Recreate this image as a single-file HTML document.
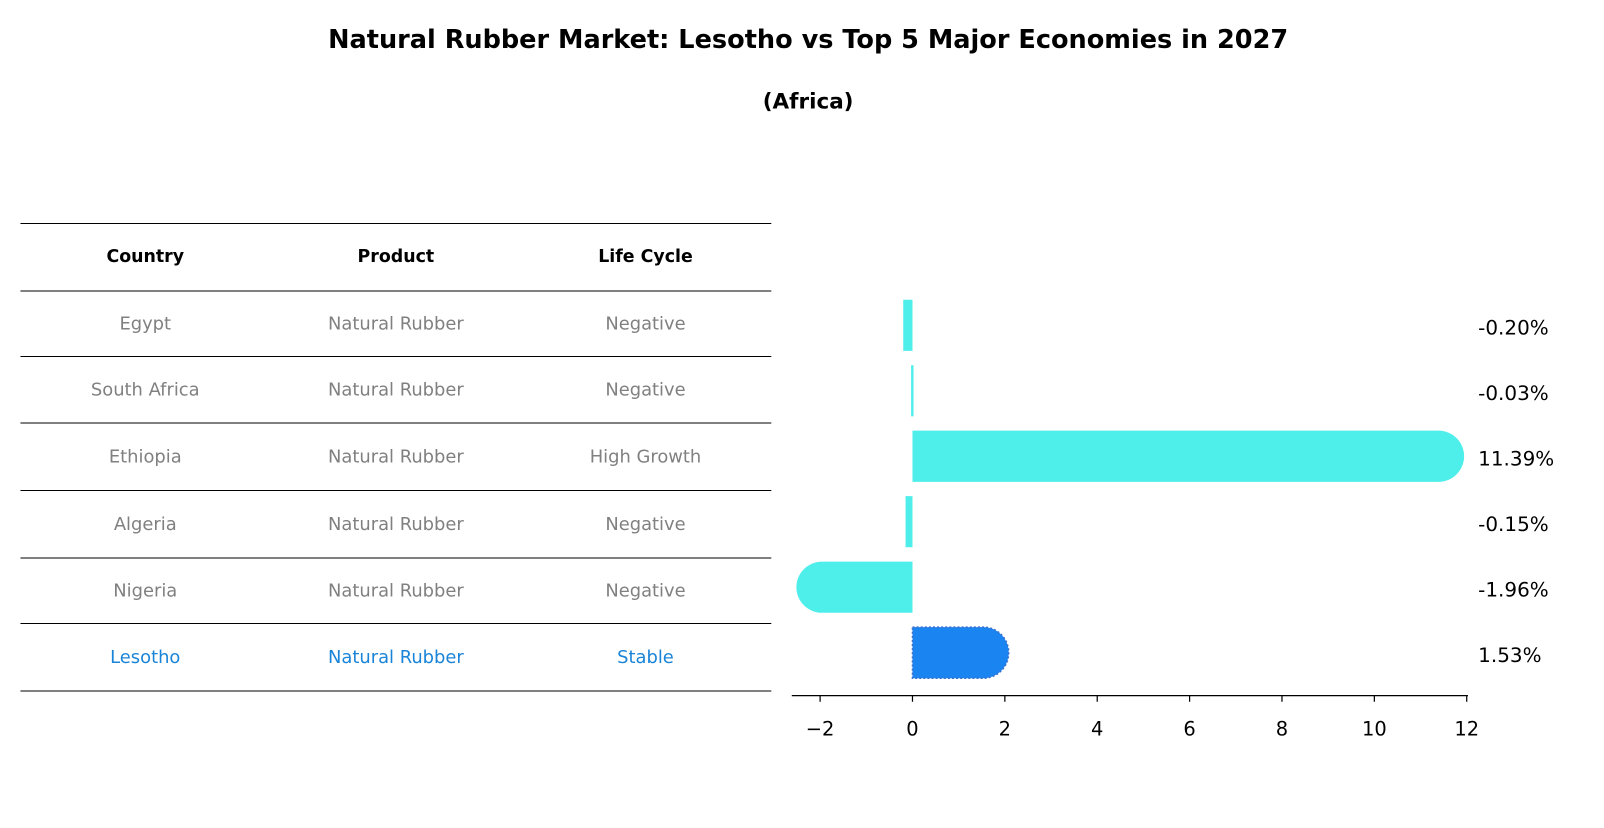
<!DOCTYPE html>
<html><head><meta charset="utf-8"><style>
body{margin:0;background:#fff;font-family:"Liberation Sans","DejaVu Sans",sans-serif}
</style></head><body>
<svg width="1604" height="823" viewBox="0 0 1568 804.5" xmlns="http://www.w3.org/2000/svg" font-family="DejaVu Sans, Liberation Sans, sans-serif">
<text x="790" y="47" text-anchor="middle" font-size="25" font-weight="bold">Natural Rubber Market: Lesotho vs Top 5 Major Economies in 2027</text>
<text x="790" y="106" text-anchor="middle" font-size="21" font-weight="bold">(Africa)</text>
<g id="table"></g>
<g id="bars"></g>
</svg>
<script>
const countries=["Egypt","South Africa","Ethiopia","Algeria","Nigeria","Lesotho"];
const products=["Natural Rubber","Natural Rubber","Natural Rubber","Natural Rubber","Natural Rubber","Natural Rubber"];
const lifeCycles=["Negative","Negative","High Growth","Negative","Negative","Stable"];
const values=[-0.20,-0.03,11.39,-0.15,-1.96,1.53];
const valueLabels=["-0.20%","-0.03%","11.39%","-0.15%","-1.96%","1.53%"];
const ticks=[-2,0,2,4,6,8,10,12];
const NS="http://www.w3.org/2000/svg";
function mk(t,a,p){const e=document.createElementNS(NS,t);for(const k in a)e.setAttribute(k,a[k]);p.appendChild(e);return e;}
const tb=document.getElementById('table');
const lineYs=[218,284,348,413,479,545,609,675];
lineYs.forEach((y,i)=>{const l=mk('line',{x1:20,x2:754,y1:y+0.5,y2:y+0.5,stroke:'#000','stroke-width':1},tb);

});
const colX=[142,387,631];
["Country","Product","Life Cycle"].forEach((h,i)=>{const t=mk('text',{x:colX[i],y:256,'text-anchor':'middle','font-size':17,'font-weight':'bold'},tb);t.textContent=h;

});
countries.forEach((c,r)=>{const y=(lineYs[r+1]+lineYs[r+2])/2+6;const col=c==="Lesotho"?"#1a84d8":"#808080";
[c,products[r],lifeCycles[r]].forEach((v,i)=>{const t=mk('text',{x:colX[i],y:y,'text-anchor':'middle','font-size':17.5,fill:col},tb);t.textContent=v;

});});
const g=document.getElementById('bars');
const x0=892,sc=45.15;const X=v=>x0+v*sc;
const rowY=r=>318+r*64;const bh=50,rad=25;
const ax=mk('line',{x1:774,x2:1435,y1:680,y2:680,stroke:'#000','stroke-width':1.3},g);


ticks.forEach(t=>{const l=mk('line',{x1:X(t),x2:X(t),y1:680,y2:686,stroke:'#000','stroke-width':1.2},g);


const tx=mk('text',{x:X(t),y:719,'text-anchor':'middle','font-size':19},g);tx.textContent=t<0?"\u2212"+(-t):t;

});
values.forEach((v,r)=>{const cy=rowY(r),top=cy-bh/2;const les=countries[r]==="Lesotho";const col=les?"#1a84f0":"#4eeeea";
let d;const xe=X(v);
if(Math.abs(v)>1){if(v>0)d=`M${x0},${top}H${xe}A${rad},${rad} 0 0 1 ${xe},${top+bh}H${x0}Z`;
else d=`M${x0},${top}H${xe}A${rad},${rad} 0 0 0 ${xe},${top+bh}H${x0}Z`;}
else{const a=Math.min(x0,xe),b=Math.max(x0,xe)+(Math.abs(v)<0.05?1:0);d=`M${a},${top}H${b}V${top+bh}H${a}Z`;}
const attrs={d:d,fill:col};
if(les){attrs.stroke='#3a6fd0';attrs['stroke-width']=1.5;attrs['stroke-dasharray']='2,2';}
const p=mk('path',attrs,g);


const t=mk('text',{x:1445,y:cy+9,'font-size':19.5},g);t.textContent=valueLabels[r];

});
</script>
</body></html>
